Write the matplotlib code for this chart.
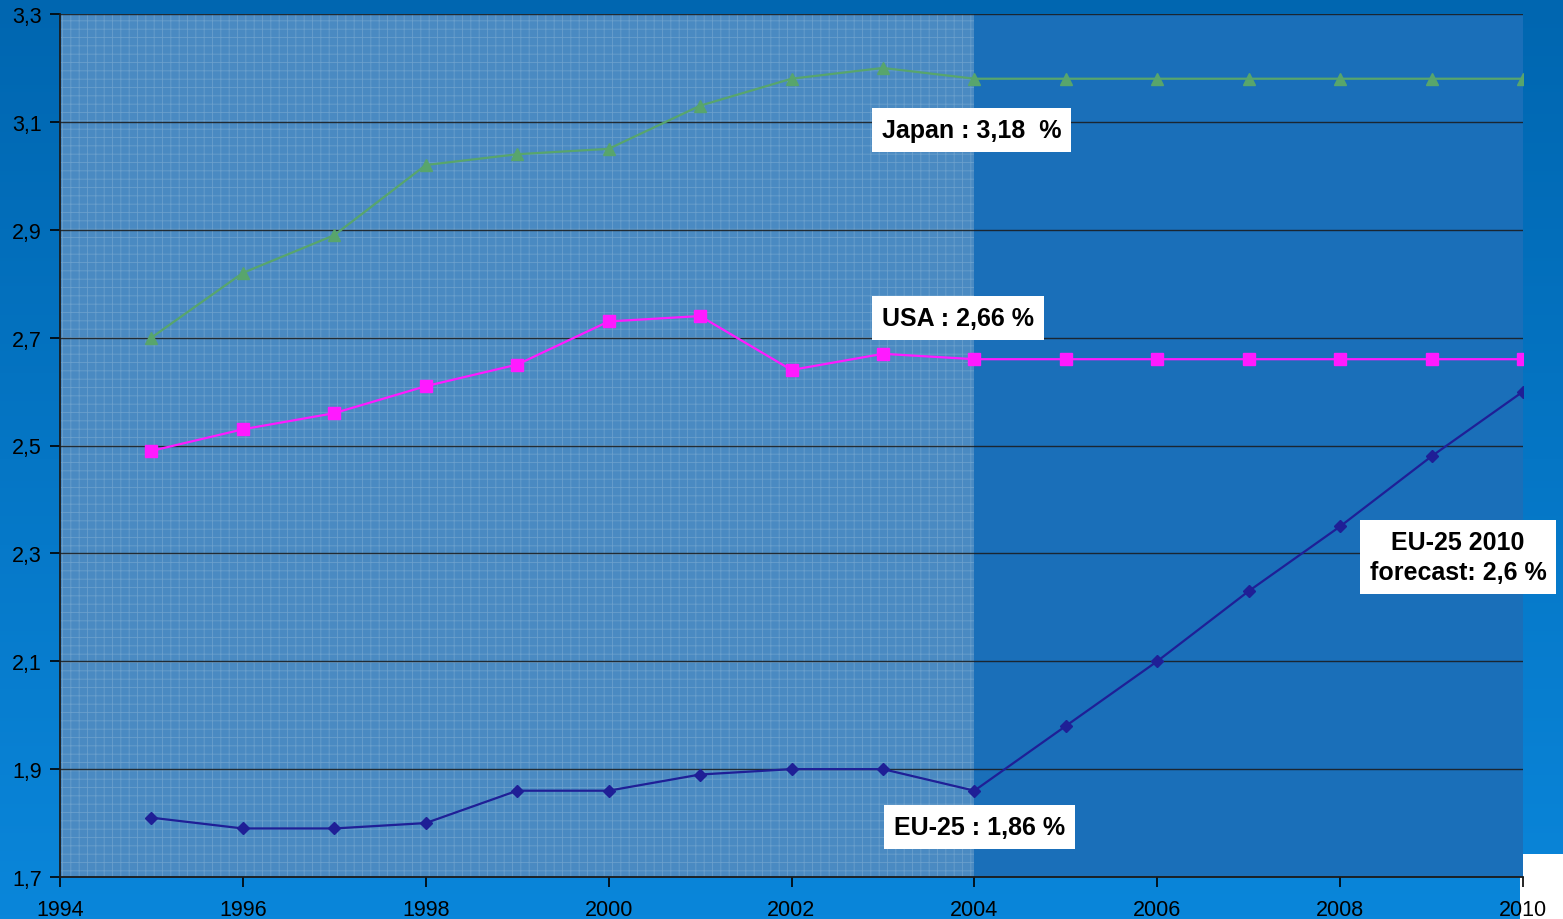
import numpy as np
import matplotlib
matplotlib.use("Agg")
import matplotlib.pyplot as plt
from matplotlib.colors import LinearSegmentedColormap
from matplotlib.patches import Rectangle

plt.rcParams["font.family"] = ["Liberation Sans", "DejaVu Sans"]
plt.rcParams["hatch.linewidth"] = 0.6

# R&D expenditure as % of GDP, actual to 2004 and flat / linear forecast to 2010
years = list(range(1995, 2011))
japan = [2.70, 2.82, 2.89, 3.02, 3.04, 3.05, 3.13, 3.18, 3.20,
         3.18, 3.18, 3.18, 3.18, 3.18, 3.18, 3.18]
usa = [2.49, 2.53, 2.56, 2.61, 2.65, 2.73, 2.74, 2.64, 2.67,
       2.66, 2.66, 2.66, 2.66, 2.66, 2.66, 2.66]
eu25 = [1.81, 1.79, 1.79, 1.80, 1.86, 1.86, 1.89, 1.90, 1.90,
        1.86, 1.98, 2.10, 2.23, 2.35, 2.48, 2.60]

x_ticks = list(range(1994, 2011, 2))
y_ticks = [1.7, 1.9, 2.1, 2.3, 2.5, 2.7, 2.9, 3.1, 3.3]
y_tick_labels = ["1,7", "1,9", "2,1", "2,3", "2,5", "2,7", "2,9", "3,1", "3,3"]

labels = [
    ("Japan : 3,18  %", 2003.97, 3.085),
    ("USA : 2,66 %", 2003.82, 2.736),
    ("EU-25 : 1,86 %", 2004.06, 1.793),
    ("EU-25 2010\nforecast: 2,6 %", 2009.29, 2.293),
]

fig = plt.figure(figsize=(15.63, 9.2), dpi=100)

# slide-style gradient background
bg = fig.add_axes([0, 0, 1, 1], zorder=-10)
cmap = LinearSegmentedColormap.from_list("bg", ["#0066b0", "#0a86da"])
grad = np.linspace(0, 1, 256).reshape(-1, 1)
bg.imshow(grad, aspect="auto", cmap=cmap, extent=[0, 1, 0, 1], origin="upper")
bg.set_axis_off()

ax = fig.add_axes([60 / 1563, 42 / 920, 1463 / 1563, 863 / 920])
ax.set_facecolor("#1a6fb9")
ax.axvspan(1994, 2004, facecolor="#4a8ac2", edgecolor="#6a9fcc", hatch="++",
           zorder=0, lw=0)

ax.plot(years, japan, color="#58a56c", marker="^", markersize=9, lw=1.6, zorder=3)
ax.plot(years, usa, color="#ff1aff", marker="s", markersize=8, lw=1.6, zorder=3)
ax.plot(years, eu25, color="#1f1f96", marker="D", markersize=6, lw=1.6, zorder=3)

ax.set_xlim(1994, 2010)
ax.set_ylim(1.7, 3.3)
ax.set_xticks(x_ticks)
ax.set_yticks(y_ticks)
ax.set_yticklabels(y_tick_labels)
ax.tick_params(axis="both", labelsize=15.5, colors="black", length=7, width=1.2,
               direction="out")
ax.tick_params(axis="x", pad=9)
ax.tick_params(axis="y", pad=6)
ax.grid(axis="y", color="#1a1a1a", lw=1.0, alpha=0.85)
ax.set_axisbelow(True)
for side in ("top", "right"):
    ax.spines[side].set_visible(False)
for side in ("left", "bottom"):
    ax.spines[side].set_color("#1a1a1a")
    ax.spines[side].set_linewidth(1.3)

for text, x, y in labels:
    ax.text(x, y, text, ha="center", va="center", fontsize=18, fontweight="bold",
            color="black", linespacing=1.3, zorder=5, clip_on=False,
            bbox=dict(boxstyle="square,pad=0.4", fc="white", ec="none"))

# white patch in lower right corner
fig.patches.append(Rectangle((1520 / 1563, 0), 43 / 1563, 65 / 920,
                             transform=fig.transFigure, fc="white", ec="none",
                             zorder=-5))

fig.savefig("out.png", dpi=100)
